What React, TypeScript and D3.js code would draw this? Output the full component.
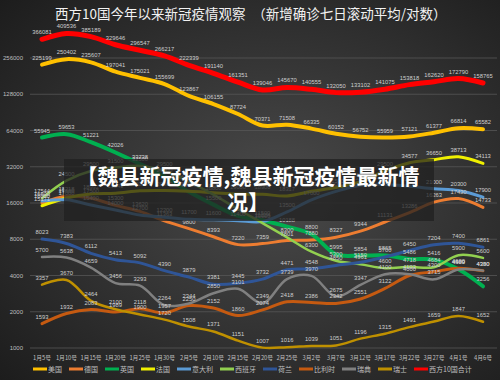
import React from 'react';
import * as d3 from 'd3';

const dates = ['1月5号','1月10号','1月15号','1月20号','1月25号','1月30号','2月5号','2月10号','2月15号','2月20号','2月25号','3月2号','3月7号','3月12号','3月17号','3月22号','3月27号','4月1号','4月6号'];

const usa = [225199,250402,235607,197041,175021,155699,123867,106155,87724,70371,71508,66335,60152,56752,55959,57121,61377,66814,65582];
const germany = [16000,18218,17500,15300,13620,11363,9800,8393,7220,7359,7801,7880,8327,9344,11131,13286,16263,17430,14733];
const uk = [55945,59653,51221,42026,33738,26500,19800,15500,12500,11500,10188,8800,5995,5854,5865,5486,5416,4500,3256];
const france = [15171,17600,18992,19240,20200,20300,20000,19500,19000,18900,18317,20000,21500,24000,29500,34577,36650,38713,34113];
const italy = [16600,17000,15400,14000,12700,12200,11700,11600,11400,11224,13500,17000,20000,22500,22800,22000,21000,20300,17900];
const spain = [17544,24500,29500,31500,32500,29500,24000,18800,14200,10900,8300,6300,5300,4961,4600,4718,4684,5900,5600];
const netherlands = [8023,7383,6112,5413,5092,4390,3879,3381,3445,3732,4471,4548,4850,5150,5700,6450,7204,7400,6861];
const belgium = [1593,1932,2083,1989,2118,1957,2250,2152,1860,2074,2418,2386,2342,2551,3122,4000,4300,4600,4380];
const sweden = [5700,5638,4659,3456,3293,2264,2344,2850,3101,2349,3739,3970,2675,3347,4100,4103,3715,4489,4390];
const switzerland = [3357,3670,2464,2100,1900,1720,1508,1371,1151,1007,1016,1039,1051,1196,1315,1491,1659,1847,1652];
const total = [366081,409536,385189,329646,296547,266217,222339,191140,161351,139046,145670,140555,132050,133102,141075,153818,162620,172790,158765];

const seriesNames = ['美国','德国','英国','法国','意大利','西班牙','荷兰','比利时','瑞典','瑞士','西方10国合计'];
const seriesValues = [usa, germany, uk, france, italy, spain, netherlands, belgium, sweden, switzerland, total];
const seriesColors = ['#FFC000','#ED7D31','#00B050','#F0F000','#5B9BD5','#92D050','#2F5597','#C55A11','#808080','#BF9000','#FF0000'];
const seriesWidths = [4,3,4,3,3,2.5,3,3,2.5,2.5,5];

const yTicks = [1000,2000,4000,8000,16000,32000,64000,128000,256000];

const title = '西方10国今年以来新冠疫情观察　（新增确诊七日滚动平均/对数）';
const bannerLines = ['【魏县新冠疫情,魏县新冠疫情最新情', '况】'];

const W = 500, H = 380;

function textWidth(s: string, fs: number) {
  let w = 0;
  for (const ch of s) w += /[\u0000-\u00ff]/.test(ch) ? fs * 0.55 : fs;
  return w;
}

export default function App() {
  const x = d3.scalePoint<string>().domain(dates).range([42, 483]);
  const y = d3.scaleLog().base(2).domain([1000, 256000]).range([348, 58]);
  const line = d3.line<number>()
    .x((_, i) => x(dates[i]) as number)
    .y(d => y(d))
    .curve(d3.curveCatmullRom.alpha(0.5));

  const legFs = 7;
  let cur = 33;
  const legend = seriesNames.map((n, i) => {
    const item = { n, i, x: cur };
    cur += 15 + textWidth(n, legFs) + 7;
    return item;
  });

  const font = '"Noto Sans CJK SC", "Noto Sans", sans-serif';
  const numFont = '"Liberation Sans", Arial, sans-serif';

  return (
    <svg width={W} height={H} style={{ position: 'absolute', left: 0, top: 0 }} fontFamily={font}>
      <defs>
        <radialGradient id="bg" cx="55%" cy="50%" r="75%">
          <stop offset="0%" stopColor="#4a4a4a" />
          <stop offset="100%" stopColor="#1c1c1c" />
        </radialGradient>
      </defs>
      <rect x={0} y={0} width={W} height={H} fill="url(#bg)" />
      <text x={55} y={19} fill="#f2f2f2" fontSize={13.5}>{title}</text>

      {yTicks.map(t => (
        <g key={t}>
          <line x1={30} x2={497} y1={y(t)} y2={y(t)} stroke="#555" strokeWidth={0.8} />
          <text x={23} y={y(t)} textAnchor="end" dominantBaseline="central" fill="#bfbfbf" fontSize={6} fontFamily={numFont}>{t}</text>
        </g>
      ))}

      {dates.map(d => (
        <text key={d} x={x(d)} y={357} textAnchor="middle" dominantBaseline="central" fill="#bfbfbf" fontSize={5.8}>{d}</text>
      ))}

      {seriesValues.map((vals, i) => (
        <path key={seriesNames[i]} d={line(vals) || ''} fill="none" stroke={seriesColors[i]} strokeWidth={seriesWidths[i]} strokeLinecap="round" />
      ))}

      {seriesValues.map((vals, i) => (
        <g key={'l' + i}>
          {vals.map((v, j) => (
            <text key={j} x={x(dates[j])} y={y(v) - 5} textAnchor="middle" fill="#cfcfcf" fontSize={5.8} fontFamily={numFont}>{v}</text>
          ))}
        </g>
      ))}

      {legend.map(it => (
        <g key={it.n}>
          <line x1={it.x} x2={it.x + 14} y1={369} y2={369} stroke={seriesColors[it.i]} strokeWidth={3} />
          <text x={it.x + 15} y={369} dominantBaseline="central" fill="#bfbfbf" fontSize={legFs}>{it.n}</text>
        </g>
      ))}

      <rect x={64} y={159} width={370} height={62} fill="rgba(32,32,32,0.75)" />
      {bannerLines.map((t, i) => (
        <text key={i} x={248} y={184 + i * 26} textAnchor="middle" fill="#ffffff" fontWeight="bold" fontSize={21}>{t}</text>
      ))}
    </svg>
  );
}
